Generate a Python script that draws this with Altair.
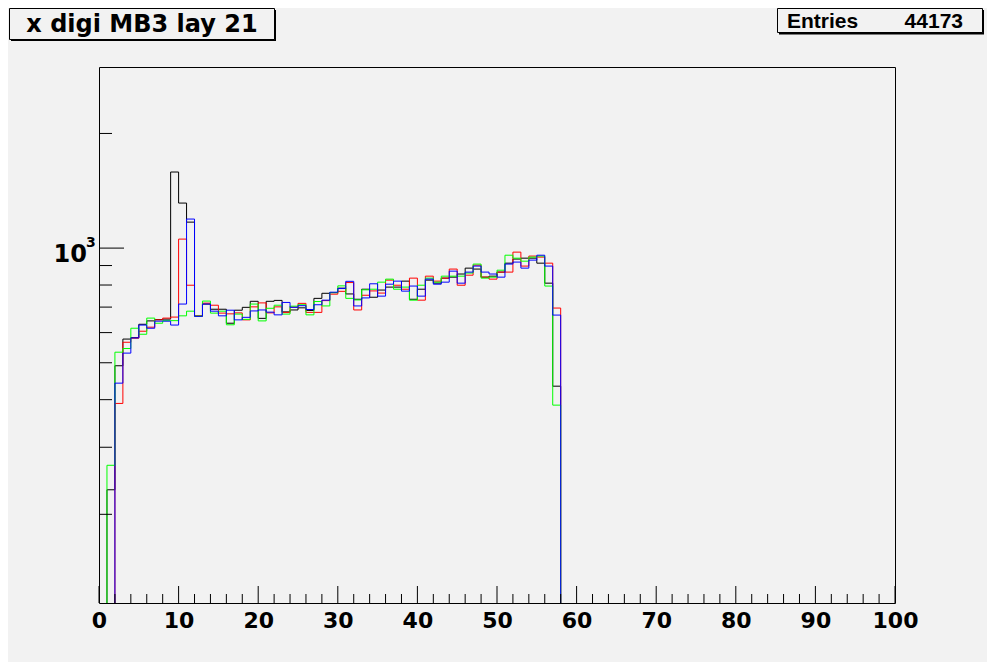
import altair as alt
import pandas as pd

# ---- data (bin contents for bins 0..57, bins 58..99 are empty) ----
black = [0, 232, 491, 577, 582, 631, 644, 649, 651, 1584, 1313, 1170, 663, 713, 691, 691,
         635, 687, 699, 725, 654, 725, 729, 680, 688, 697, 686, 738, 761, 764, 785, 758,
         734, 780, 743, 776, 790, 790, 819, 734, 780, 824, 809, 834, 839, 855, 886, 881,
         839, 844, 865, 913, 936, 941, 941, 913, 809, 434]
red = [0, 0, 391, 566, 580, 605, 620, 648, 655, 659, 1056, 799, 664, 717, 708, 675,
       672, 676, 648, 701, 718, 676, 701, 678, 700, 716, 678, 678, 728, 757, 770, 812,
       688, 752, 772, 762, 824, 799, 780, 834, 730, 844, 819, 834, 881, 799, 849, 902,
       839, 829, 865, 865, 976, 897, 953, 947, 913, 696]
green = [0, 269, 533, 545, 616, 594, 655, 635, 645, 645, 664, 683, 663, 726, 675, 683,
         629, 671, 650, 713, 644, 695, 708, 671, 704, 710, 668, 724, 705, 764, 796, 738,
         731, 777, 780, 814, 829, 780, 790, 730, 799, 834, 814, 844, 844, 844, 860, 908,
         834, 839, 875, 958, 941, 924, 947, 953, 795, 387]
blue = [0, 0, 442, 530, 581, 628, 616, 643, 643, 628, 713, 1192, 662, 713, 683, 664,
        687, 648, 658, 684, 688, 679, 668, 720, 699, 706, 690, 710, 730, 766, 783, 818,
        705, 740, 806, 748, 804, 819, 771, 795, 748, 829, 804, 814, 870, 809, 865, 897,
        865, 855, 839, 908, 919, 886, 930, 958, 897, 667]

n_bins = 100
x_min, x_max = 0, 100
y_min, y_max = 117, 2989

title_text = "x digi MB3 lay 21"
stats_label = "Entries"
stats_value = "44173"

x_major = list(range(0, 101, 10))
x_minor = [v for v in range(0, 101, 2) if v % 10 != 0]
y_major = [1000]
y_minor = [200, 300, 400, 500, 600, 700, 800, 900, 2000]

series = [("black", black, "#000000"), ("red", red, "#ff0000"),
          ("green", green, "#00ff00"), ("blue", blue, "#0000ff")]

W, H = 796, 536
BG = "#f2f2f2"
FONT = "DejaVu Sans"
SFONT = "Liberation Sans"

xscale = alt.Scale(domain=[x_min, x_max], nice=False, zero=False)
yscale = alt.Scale(type="log", domain=[y_min, y_max], nice=False)
xaxis = alt.Axis(values=x_major, ticks=False, domain=False, grid=False, title=None,
                 labelFont=FONT, labelFontSize=22, labelFontWeight="bold",
                 labelColor="black", labelPadding=7, labelFlush=False, labelOverlap=False)


def step_df(vals):
    full = list(vals) + [0] * (n_bins - len(vals))
    edges = list(range(n_bins + 1))
    counts = full + [full[-1]]
    # empty bins lie below the log axis floor and are clipped away
    counts = [c if c > 0 else 1 for c in counts]
    return pd.DataFrame({"edge": edges, "count": counts})


layers = []

# histograms
for name, vals, col in series:
    layers.append(
        alt.Chart(step_df(vals)).mark_line(interpolate="step-after", clip=True,
                                           strokeWidth=1, color=col)
        .encode(x=alt.X("edge:Q", scale=xscale, axis=xaxis),
                y=alt.Y("count:Q", scale=yscale, axis=None))
    )

# inward ticks (ROOT style)
xt_major = pd.DataFrame({"t": x_major})
xt_minor = pd.DataFrame({"t": x_minor})
yt_major = pd.DataFrame({"t": y_major})
yt_minor = pd.DataFrame({"t": y_minor})

layers.append(alt.Chart(xt_major).mark_rule(color="black", strokeWidth=1).encode(
    x=alt.X("t:Q", scale=xscale, axis=xaxis), y=alt.value(H), y2=alt.value(H - 17)))
layers.append(alt.Chart(xt_minor).mark_rule(color="black", strokeWidth=1).encode(
    x=alt.X("t:Q", scale=xscale, axis=xaxis), y=alt.value(H), y2=alt.value(H - 9)))
layers.append(alt.Chart(yt_major).mark_rule(color="black", strokeWidth=1).encode(
    y=alt.Y("t:Q", scale=yscale, axis=None), x=alt.value(0), x2=alt.value(25)))
layers.append(alt.Chart(yt_minor).mark_rule(color="black", strokeWidth=1).encode(
    y=alt.Y("t:Q", scale=yscale, axis=None), x=alt.value(0), x2=alt.value(13)))

# y label 10^3
ylab = pd.DataFrame({"v": [1000], "base": ["10"], "exp": ["3"]})
layers.append(alt.Chart(ylab).mark_text(align="right", baseline="middle", dy=7,
                                        font=FONT, fontSize=24, fontWeight="bold",
                                        color="black").encode(
    x=alt.value(-12), y=alt.Y("v:Q", scale=yscale, axis=None), text="base:N"))
layers.append(alt.Chart(ylab).mark_text(align="left", baseline="middle", dy=-5,
                                        font=FONT, fontSize=14, fontWeight="bold",
                                        color="black").encode(
    x=alt.value(-13), y=alt.Y("v:Q", scale=yscale, axis=None), text="exp:N"))

# title box with shadow
box = pd.DataFrame({"a": [0]})
layers.append(alt.Chart(box).mark_rect(color="black").encode(
    x=alt.value(-88), x2=alt.value(177), y=alt.value(-57), y2=alt.value(-26)))
layers.append(alt.Chart(box).mark_rect(fill=BG, stroke="black", strokeWidth=1).encode(
    x=alt.value(-89.5), x2=alt.value(175.5), y=alt.value(-58.5), y2=alt.value(-27.5)))
tdf = pd.DataFrame({"t": [title_text]})
layers.append(alt.Chart(tdf).mark_text(align="center", baseline="alphabetic",
                                       font=FONT, fontSize=24, fontWeight="bold",
                                       color="black").encode(
    x=alt.value(43), y=alt.value(-35), text="t:N"))

# stats box with shadow
layers.append(alt.Chart(box).mark_rect(color="black").encode(
    x=alt.value(680), x2=alt.value(885), y=alt.value(-57), y2=alt.value(-32.5)))
layers.append(alt.Chart(box).mark_rect(fill=BG, stroke="black", strokeWidth=1).encode(
    x=alt.value(678.5), x2=alt.value(883.5), y=alt.value(-58.5), y2=alt.value(-34.5)))
sdf = pd.DataFrame({"l": [stats_label], "v": [stats_value]})
layers.append(alt.Chart(sdf).mark_text(align="left", baseline="alphabetic",
                                       font=SFONT, fontSize=21, fontWeight="bold",
                                       color="black").encode(
    x=alt.value(688), y=alt.value(-39), text="l:N"))
layers.append(alt.Chart(sdf).mark_text(align="right", baseline="alphabetic",
                                       font=SFONT, fontSize=21, fontWeight="bold",
                                       color="black").encode(
    x=alt.value(864), y=alt.value(-39), text="v:N"))

chart = alt.layer(*layers).properties(
    width=W, height=H,
    autosize=alt.AutoSizeParams(type="none"),
    padding={"left": 91, "top": 59, "right": 92, "bottom": 59},
    background=BG,
).configure_view(stroke="black", strokeWidth=1, fill=BG)

chart.save("out.html", embed_options={"renderer": "svg", "actions": False})
